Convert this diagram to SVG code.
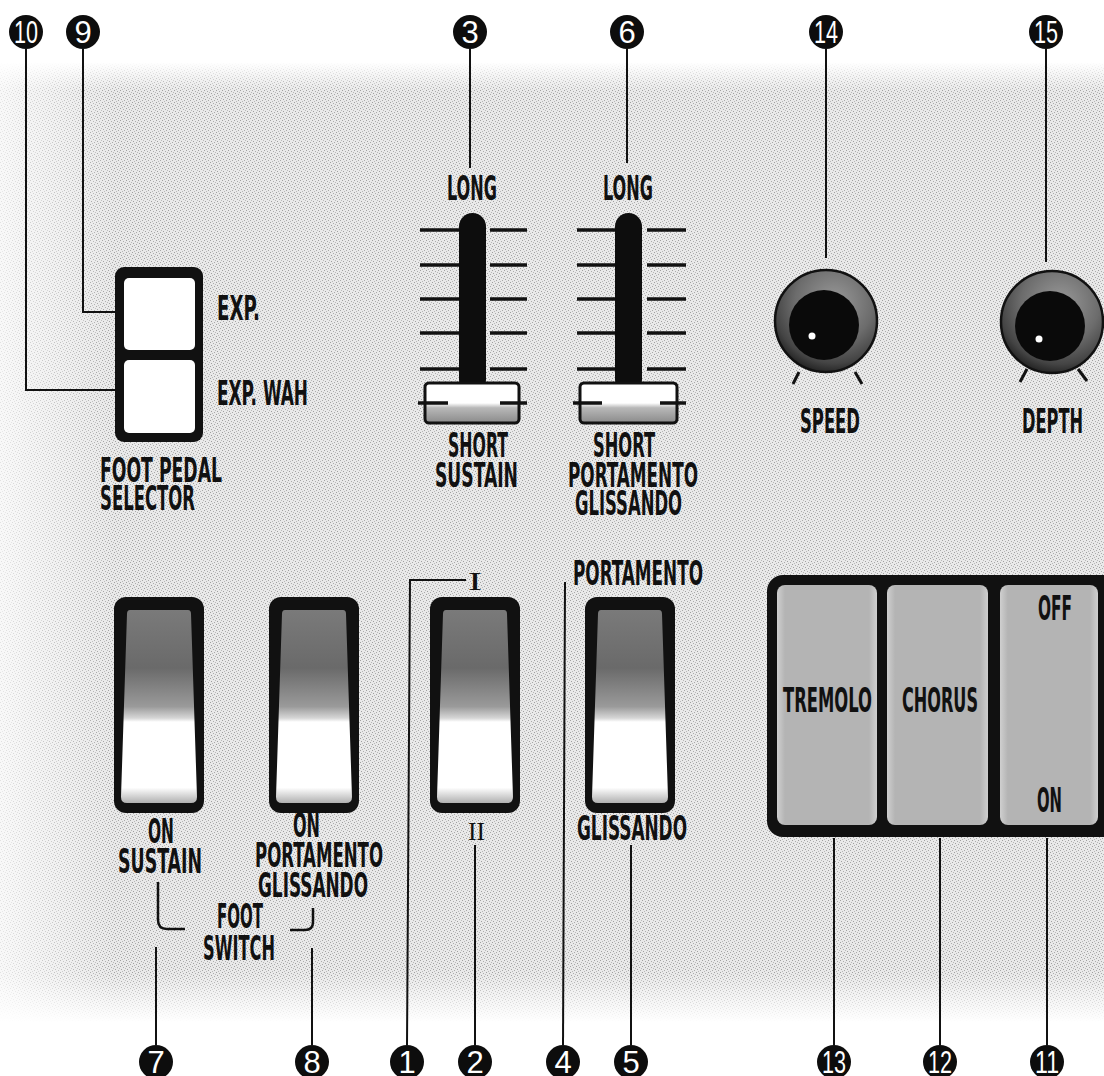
<svg xmlns="http://www.w3.org/2000/svg" width="1104" height="1076" viewBox="0 0 1104 1076">
<style>
.lbl{font-family:"Liberation Sans Narrow","DejaVu Sans Condensed","Liberation Sans",sans-serif;font-weight:bold;font-size:33px;fill:#111}
.rom{font-family:"Liberation Serif","DejaVu Serif",serif;font-size:26px;fill:#111}
.num{font-family:"Liberation Sans Narrow","Liberation Sans",sans-serif;font-size:31px;fill:#fff;text-anchor:middle}
.badge{fill:#0d0d0d}
.lead{stroke:#111;stroke-width:2;fill:none}
.tick{stroke:#111;stroke-width:3.5;stroke-linecap:butt}
.bar{fill:#0d0d0d}
.cap{fill:url(#capGrad);stroke:#111;stroke-width:3}
.frame{fill:#111}
.btn{fill:url(#btnGrad)}
.knobTick{stroke:#111;stroke-width:3}
</style>
<defs>
<pattern id="dots" width="6" height="6" patternUnits="userSpaceOnUse">
<rect width="6" height="6" fill="#e9e9e9"/>
<rect x="0" y="0" width="1" height="1" fill="#a0a0a0"/>
<rect x="3" y="1" width="1" height="1" fill="#acacac"/>
<rect x="1" y="3" width="1" height="1" fill="#a0a0a0"/>
<rect x="4" y="4" width="1" height="1" fill="#a8a8a8"/>
<rect x="2" y="5" width="1" height="1" fill="#b8b8b8"/>
<rect x="5" y="2" width="1" height="1" fill="#b8b8b8"/>
</pattern>
<linearGradient id="fadeV" x1="0" y1="0" x2="0" y2="1">
<stop offset="0" stop-color="#fff" stop-opacity="0"/>
<stop offset="0.03" stop-color="#fff" stop-opacity="1"/>
<stop offset="0.95" stop-color="#fff" stop-opacity="1"/>
<stop offset="1" stop-color="#fff" stop-opacity="0"/>
</linearGradient>
<mask id="bgMask">
<rect x="0" y="62" width="1104" height="960" fill="url(#fadeV)"/>
</mask>
<linearGradient id="leftFade" x1="0" y1="0" x2="1" y2="0">
<stop offset="0" stop-color="#fff" stop-opacity="0.7"/>
<stop offset="1" stop-color="#fff" stop-opacity="0"/>
</linearGradient>
<linearGradient id="capGrad" x1="0" y1="0" x2="0" y2="1">
<stop offset="0" stop-color="#fff"/>
<stop offset="0.5" stop-color="#fff"/>
<stop offset="0.62" stop-color="#b8b8b8"/>
<stop offset="1" stop-color="#8a8a8a"/>
</linearGradient>
<linearGradient id="rockGrad" x1="0" y1="0" x2="0" y2="1">
<stop offset="0" stop-color="#7a7a7a"/>
<stop offset="0.3" stop-color="#6a6a6a"/>
<stop offset="0.5" stop-color="#9a9a9a"/>
<stop offset="0.56" stop-color="#d6d6d6"/>
<stop offset="0.58" stop-color="#fff"/>
<stop offset="0.92" stop-color="#fff"/>
<stop offset="1" stop-color="#b0b0b0"/>
</linearGradient>
<linearGradient id="btnGrad" x1="0" y1="0" x2="1" y2="0">
<stop offset="0" stop-color="#cfcfcf"/>
<stop offset="0.08" stop-color="#b4b4b4"/>
<stop offset="0.92" stop-color="#b4b4b4"/>
<stop offset="1" stop-color="#cfcfcf"/>
</linearGradient>
<radialGradient id="ringGrad" cx="0.58" cy="0.32" r="0.7">
<stop offset="0" stop-color="#9a9a9a"/>
<stop offset="0.55" stop-color="#6c6c6c"/>
<stop offset="0.85" stop-color="#444"/>
<stop offset="1" stop-color="#222"/>
</radialGradient>
<g id="rocker">
<rect x="0" y="0" width="90" height="216" rx="12" class="frame"/>
<path d="M16,13 H74 Q77,13 77,17 L83,200 Q83,206 77,206 H13 Q7,206 7,200 L13,17 Q13,13 16,13 Z" fill="url(#rockGrad)"/>
</g>
<g id="knob">
<circle cx="0" cy="0" r="51" fill="url(#ringGrad)" stroke="#111" stroke-width="2.5"/>
<circle cx="-2" cy="4" r="35" fill="#0a0a0a"/>
</g>
</defs>

<rect width="1104" height="1076" fill="#fff"/>
<rect x="0" y="62" width="1104" height="960" fill="url(#dots)" mask="url(#bgMask)"/>
<rect x="0" y="62" width="115" height="960" fill="url(#leftFade)"/>

<g id="connectors">
<polyline class="lead" points="26,49 26,390 119,390"/>
<polyline class="lead" points="83,49 83,312 119,312"/>
<line class="lead" x1="470" y1="49" x2="470" y2="168"/>
<line class="lead" x1="627" y1="49" x2="627" y2="163"/>
<line class="lead" x1="826" y1="49" x2="826" y2="258"/>
<line class="lead" x1="1046" y1="49" x2="1046" y2="262"/>
<line class="lead" x1="156" y1="1045" x2="156" y2="947"/>
<line class="lead" x1="312" y1="1045" x2="312" y2="948"/>
<polyline class="lead" points="407,1045 410,580 466,580"/>
<line class="lead" x1="475" y1="1045" x2="475" y2="845"/>
<line class="lead" x1="563" y1="1045" x2="565" y2="582"/>
<line class="lead" x1="631" y1="1045" x2="631" y2="845"/>
<line class="lead" x1="834" y1="1045" x2="834" y2="838"/>
<line class="lead" x1="940" y1="1045" x2="940" y2="838"/>
<line class="lead" x1="1047" y1="1045" x2="1047" y2="838"/>
<path d="M158,882 V920 Q158,929 167,929 H185" stroke="#111" stroke-width="2.5" fill="none"/>
<path d="M290,930 H305 Q313,930 313,922 V908" stroke="#111" stroke-width="2.5" fill="none"/>
</g>

<g id="foot-pedal-selector">
<rect x="115" y="267" width="88" height="175" rx="9" class="frame"/>
<rect x="124" y="278" width="71" height="72" rx="5" fill="#fff"/>
<rect x="124" y="360" width="71" height="73" rx="5" fill="#fff"/>
<text class="lbl" x="217" y="320" textLength="43" lengthAdjust="spacingAndGlyphs">EXP.</text>
<text class="lbl" x="217" y="405" textLength="91" lengthAdjust="spacingAndGlyphs">EXP. WAH</text>
<text class="lbl" x="100" y="482" textLength="122" lengthAdjust="spacingAndGlyphs">FOOT PEDAL</text>
<text class="lbl" x="100" y="510" textLength="95" lengthAdjust="spacingAndGlyphs">SELECTOR</text>
</g>

<g id="sustain-slider">
<text class="lbl" x="447" y="200" textLength="50" lengthAdjust="spacingAndGlyphs">LONG</text>
<g class="tick">
<line x1="420" y1="230" x2="460" y2="230"/><line x1="490" y1="230" x2="527" y2="230"/>
<line x1="420" y1="265" x2="460" y2="265"/><line x1="490" y1="265" x2="527" y2="265"/>
<line x1="420" y1="299" x2="460" y2="299"/><line x1="490" y1="299" x2="527" y2="299"/>
<line x1="420" y1="333" x2="460" y2="333"/><line x1="490" y1="333" x2="527" y2="333"/>
<line x1="420" y1="369" x2="460" y2="369"/><line x1="490" y1="369" x2="527" y2="369"/>
</g>
<rect x="459" y="213" width="27" height="180" rx="13.5" class="bar"/>
<rect x="425" y="383" width="94" height="40" rx="4" class="cap"/>
<line class="tick" x1="418" y1="403" x2="448" y2="403"/>
<line class="tick" x1="500" y1="403" x2="527" y2="403"/>
<text class="lbl" x="448" y="457" textLength="60" lengthAdjust="spacingAndGlyphs">SHORT</text>
<text class="lbl" x="435" y="487" textLength="83" lengthAdjust="spacingAndGlyphs">SUSTAIN</text>
</g>

<g id="portamento-slider">
<text class="lbl" x="603" y="200" textLength="50" lengthAdjust="spacingAndGlyphs">LONG</text>
<g class="tick">
<line x1="577" y1="230" x2="615" y2="230"/><line x1="647" y1="230" x2="686" y2="230"/>
<line x1="577" y1="265" x2="615" y2="265"/><line x1="647" y1="265" x2="686" y2="265"/>
<line x1="577" y1="299" x2="615" y2="299"/><line x1="647" y1="299" x2="686" y2="299"/>
<line x1="577" y1="333" x2="615" y2="333"/><line x1="647" y1="333" x2="686" y2="333"/>
<line x1="577" y1="369" x2="615" y2="369"/><line x1="647" y1="369" x2="686" y2="369"/>
</g>
<rect x="615" y="213" width="27" height="180" rx="13.5" class="bar"/>
<rect x="580" y="383" width="97" height="40" rx="4" class="cap"/>
<line class="tick" x1="573" y1="403" x2="602" y2="403"/>
<line class="tick" x1="660" y1="403" x2="686" y2="403"/>
<text class="lbl" x="593" y="457" textLength="62" lengthAdjust="spacingAndGlyphs">SHORT</text>
<text class="lbl" x="568" y="487" textLength="130" lengthAdjust="spacingAndGlyphs">PORTAMENTO</text>
<text class="lbl" x="575" y="515" textLength="107" lengthAdjust="spacingAndGlyphs">GLISSANDO</text>
</g>

<g id="speed-knob">
<use href="#knob" x="826" y="321"/>
<circle cx="812" cy="336" r="3.5" fill="#fff"/>
<line class="knobTick" x1="799" y1="372" x2="793" y2="384"/>
<line class="knobTick" x1="855" y1="372" x2="862" y2="384"/>
<text class="lbl" x="800" y="433" textLength="60" lengthAdjust="spacingAndGlyphs">SPEED</text>
</g>

<g id="depth-knob">
<use href="#knob" x="1052" y="322"/>
<circle cx="1039" cy="339" r="3.5" fill="#fff"/>
<line class="knobTick" x1="1027" y1="369" x2="1020" y2="382"/>
<line class="knobTick" x1="1078" y1="369" x2="1087" y2="381"/>
<text class="lbl" x="1022" y="433" textLength="61" lengthAdjust="spacingAndGlyphs">DEPTH</text>
</g>

<g id="sustain-footswitch">
<use href="#rocker" x="114" y="597"/>
<text class="lbl" x="148" y="843" textLength="26" lengthAdjust="spacingAndGlyphs">ON</text>
<text class="lbl" x="118" y="873" textLength="84" lengthAdjust="spacingAndGlyphs">SUSTAIN</text>
</g>

<g id="portamento-footswitch">
<use href="#rocker" x="269" y="597"/>
<text class="lbl" x="293" y="837" textLength="27" lengthAdjust="spacingAndGlyphs">ON</text>
<text class="lbl" x="255" y="867" textLength="128" lengthAdjust="spacingAndGlyphs">PORTAMENTO</text>
<text class="lbl" x="258" y="897" textLength="110" lengthAdjust="spacingAndGlyphs">GLISSANDO</text>
</g>

<g id="foot-switch-label">
<text class="lbl" x="217" y="928" textLength="46" lengthAdjust="spacingAndGlyphs">FOOT</text>
<text class="lbl" x="203" y="960" textLength="72" lengthAdjust="spacingAndGlyphs">SWITCH</text>
</g>

<g id="selector-switch">
<use href="#rocker" x="430" y="597"/>
<text class="rom" x="468" y="590" textLength="14" lengthAdjust="spacingAndGlyphs">I</text>
<text class="rom" x="468" y="840" textLength="17" lengthAdjust="spacingAndGlyphs">II</text>
</g>

<g id="portamento-glissando-switch">
<use href="#rocker" x="585" y="597"/>
<text class="lbl" x="573" y="585" textLength="130" lengthAdjust="spacingAndGlyphs">PORTAMENTO</text>
<text class="lbl" x="577" y="840" textLength="110" lengthAdjust="spacingAndGlyphs">GLISSANDO</text>
</g>

<g id="effect-panel">
<rect x="767" y="575" width="360" height="262" rx="16" class="frame"/>
<g id="tremolo-button">
<rect x="777" y="585" width="100" height="240" rx="8" class="btn"/>
<text class="lbl" x="783" y="712" textLength="89" lengthAdjust="spacingAndGlyphs">TREMOLO</text>
</g>
<g id="chorus-button">
<rect x="887" y="585" width="101" height="240" rx="8" class="btn"/>
<text class="lbl" x="902" y="712" textLength="76" lengthAdjust="spacingAndGlyphs">CHORUS</text>
</g>
<g id="onoff-button">
<rect x="1000" y="585" width="98" height="240" rx="8" class="btn"/>
<text class="lbl" x="1038" y="620" textLength="34" lengthAdjust="spacingAndGlyphs">OFF</text>
<text class="lbl" x="1037" y="812" textLength="25" lengthAdjust="spacingAndGlyphs">ON</text>
</g>
</g>

<g id="callout-10"><circle class="badge" cx="26" cy="32" r="17"/><text class="num" x="26" y="43" textLength="24" lengthAdjust="spacingAndGlyphs">10</text></g>
<g id="callout-9"><circle class="badge" cx="83" cy="32" r="17"/><text class="num" x="83" y="43">9</text></g>
<g id="callout-3"><circle class="badge" cx="470" cy="32" r="17"/><text class="num" x="470" y="43">3</text></g>
<g id="callout-6"><circle class="badge" cx="627" cy="32" r="17"/><text class="num" x="627" y="43">6</text></g>
<g id="callout-14"><circle class="badge" cx="826" cy="32" r="17"/><text class="num" x="826" y="43" textLength="24" lengthAdjust="spacingAndGlyphs">14</text></g>
<g id="callout-15"><circle class="badge" cx="1046" cy="32" r="17"/><text class="num" x="1046" y="43" textLength="24" lengthAdjust="spacingAndGlyphs">15</text></g>
<g id="callout-7"><circle class="badge" cx="156" cy="1062" r="17"/><text class="num" x="156" y="1073">7</text></g>
<g id="callout-8"><circle class="badge" cx="312" cy="1062" r="17"/><text class="num" x="312" y="1073">8</text></g>
<g id="callout-1"><circle class="badge" cx="407" cy="1062" r="17"/><text class="num" x="407" y="1073">1</text></g>
<g id="callout-2"><circle class="badge" cx="475" cy="1062" r="17"/><text class="num" x="475" y="1073">2</text></g>
<g id="callout-4"><circle class="badge" cx="563" cy="1062" r="17"/><text class="num" x="563" y="1073">4</text></g>
<g id="callout-5"><circle class="badge" cx="631" cy="1062" r="17"/><text class="num" x="631" y="1073">5</text></g>
<g id="callout-13"><circle class="badge" cx="834" cy="1062" r="17"/><text class="num" x="834" y="1073" textLength="24" lengthAdjust="spacingAndGlyphs">13</text></g>
<g id="callout-12"><circle class="badge" cx="940" cy="1062" r="17"/><text class="num" x="940" y="1073" textLength="24" lengthAdjust="spacingAndGlyphs">12</text></g>
<g id="callout-11"><circle class="badge" cx="1047" cy="1062" r="17"/><text class="num" x="1047" y="1073" textLength="24" lengthAdjust="spacingAndGlyphs">11</text></g>
</svg>
